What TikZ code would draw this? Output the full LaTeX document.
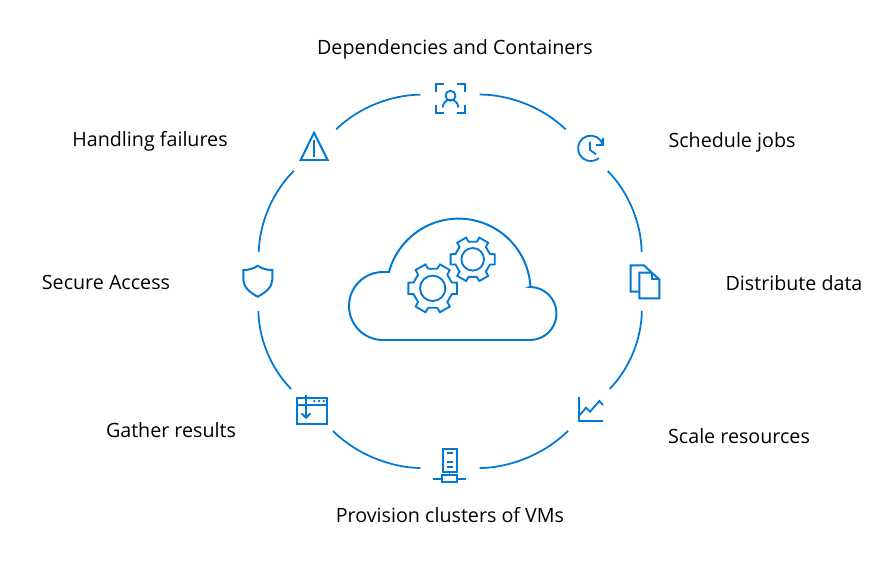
\documentclass[tikz,border=0pt]{standalone}
\usepackage{fontspec}
\setmainfont{Open Sans}
\definecolor{ringblue}{HTML}{0078D4}
\tikzset{
  iconline/.style={draw=ringblue, line width=1.4pt, line join=miter},
  thinline/.style={draw=ringblue, line width=1.3pt},
  ringline/.style={draw=ringblue, line width=1.25pt},
  iconslot/.style={circle, minimum size=1.465cm, inner sep=0pt},
  caption/.style={font=\fontsize{14}{16}\selectfont, text=black, inner sep=0pt},
}
\begin{document}
\begin{tikzpicture}[x=0.025cm, y=-0.025cm]
\useasboundingbox (0,0) rectangle (880,562);
%%%%% Slots on the ring %%%%%
\node[iconslot] (person) at (450,94.5) {};
\node[iconslot] (clock) at (587,150) {};
\node[iconslot] (files) at (642,281.5) {};
\node[iconslot] (chart) at (589,410) {};
\node[iconslot] (server) at (450,468.5) {};
\node[iconslot] (window) at (312,410) {};
\node[iconslot] (shield) at (258,281.5) {};
\node[iconslot] (warning) at (315,150) {};
\foreach \i/\j in {person/clock,clock/files,files/chart,chart/server,server/window,window/shield,shield/warning,warning/person}{
\draw[ringline] (\i) to[bend left=22, looseness=0.85] (\j);
}
%%%%% Captions %%%%%
\node[caption] (depcap) at (455,49.5) {Dependencies and Containers};
\node[caption] (jobcap) at (732,142) {Schedule jobs};
\node[caption] (datacap) at (794,283) {Distribute data};
\node[caption] (scalecap) at (739,436) {Scale resources};
\node[caption] (vmcap) at (450,515) {Provision clusters of VMs};
\node[caption] (gathercap) at (171,430) {Gather results};
\node[caption] (accesscap) at (106,282) {Secure Access};
\node[caption] (failcap) at (150,141) {Handling failures};
%%%%% Cloud %%%%%
\draw[iconline] (383,340) arc[start angle=90, end angle=270, radius=34] -- (389,272)
  arc[start angle=195, end angle=357, radius=72] -- (530,287)
  arc[start angle=270, end angle=450, radius=26.5] -- cycle;
%%%%% Gears %%%%%
\draw[thinline, shift={(432.7,288.3)}] (-17:20) \foreach \a in {0,60,...,300}{
  -- (\a-17:20) -- (\a-13:25) -- (\a+13:25) -- (\a+17:20)} -- cycle;
\draw[thinline] (432.7,288.3) circle[radius=12.7];
\draw[thinline, shift={(472.7,259.3)}] (-17:18) \foreach \a in {0,60,...,300}{
  -- (\a-17:18) -- (\a-13:22.7) -- (\a+13:22.7) -- (\a+17:18)} -- cycle;
\draw[thinline] (472.7,259.3) circle[radius=11.3];
%%%%% Person in frame %%%%%
\draw[thinline] (436,92)--(436,84)--(444,84) (457,84)--(465,84)--(465,92)
  (465,105)--(465,113)--(457,113) (444,113)--(436,113)--(436,105);
\draw[thinline] (450.5,95.7) circle[radius=5];
\draw[thinline] (442.7,107.5) arc[start angle=180, end angle=360, radius=7.8];
%%%%% Clock %%%%%
\draw[thinline] (603,145) arc[start angle=-15, end angle=-310, radius=12.7];
\draw[thinline] (603,138)--(603,145)--(596,145);
\draw[thinline] (590,141.7)--(590,150)--(596,154.3);
%%%%% Files %%%%%
\draw[iconline] (639.3,291.7)--(630.7,291.7)--(630.7,265.3)--(644,265.3)--(651.7,272.7);
\draw[iconline] (639.3,272.7)--(651.7,272.7)--(659.3,279.3)--(659.3,298.3)--(639.3,298.3)--cycle;
\draw[thinline] (651.7,272.7)--(651.7,279.3)--(659.3,279.3);
%%%%% Chart %%%%%
\draw[iconline] (578.7,397.3)--(578.7,421)--(603,421);
\draw[thinline] (580,415)--(586,407.7)--(590,411.7)--(599.3,401)--(603,405);
%%%%% Server %%%%%
\draw[thinline] (442.7,449) rectangle (456.7,471.7);
\draw[thinline] (446.7,453.3)--(453.3,453.3) (446.7,462.3)--(453.3,462.3) (446.7,466.7)--(453.3,466.7);
\draw[thinline] (449.5,471.7)--(449.5,475);
\draw[thinline] (441.7,475) rectangle (456.7,482.3);
\draw[thinline] (433.3,479)--(441.7,479) (456.7,479)--(466,479);
%%%%% Window %%%%%
\draw[iconline] (297.3,398.3) rectangle (327.3,424.3);
\draw[thinline] (297.3,405)--(327.3,405);
\fill[ringblue] (314.3,401) circle[radius=1.3] (319,401) circle[radius=1.3] (323.7,401) circle[radius=1.3];
\draw[thinline] (306,395)--(306,417.7) (301.5,413.3)--(306,417.7)--(310.5,413.3);
%%%%% Shield %%%%%
\draw[iconline] (243.3,270) .. controls (249,270) and (254,268.5) .. (257.7,265.7)
  .. controls (261.5,268.5) and (266.5,270) .. (272.3,270) -- (272.3,280)
  .. controls (272.3,287) and (265,293) .. (257.7,296.7)
  .. controls (250.5,293) and (243.3,287) .. (243.3,280) -- cycle;
%%%%% Warning %%%%%
\draw[iconline] (314,132.7)--(327.7,160)--(300.7,160)--cycle;
\draw[iconline] (314,140)--(314,157.3);
\end{tikzpicture}
\end{document}
